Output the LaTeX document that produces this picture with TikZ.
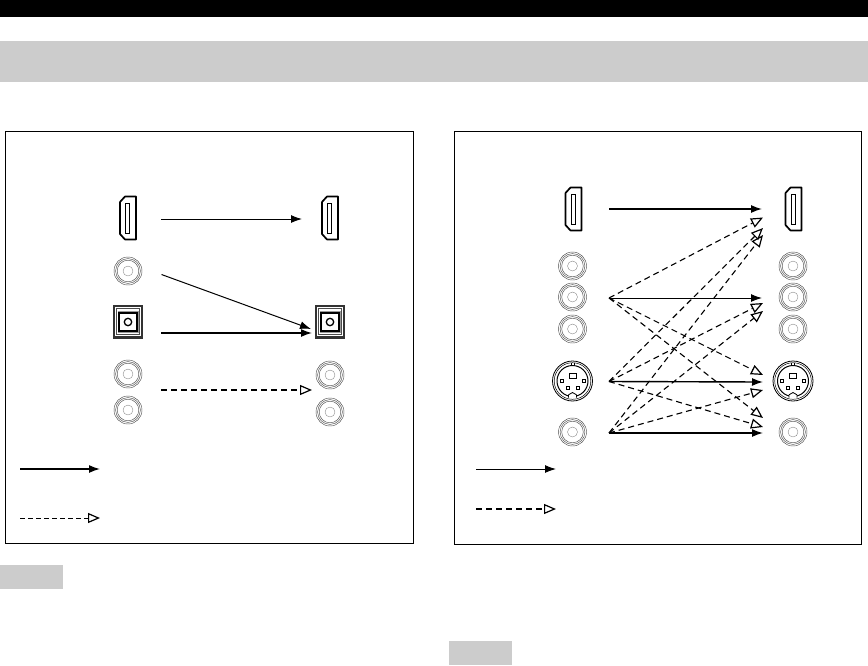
\documentclass[tikz,border=0pt]{standalone}
\usepackage{xcolor}
\usepackage{tikz}
\usetikzlibrary{arrows.meta, calc}
\definecolor{bandgray}{gray}{0.8}
\tikzset{
  solidarrow/.style={line width=1.4pt,-{Latex[length=11pt,width=8pt]}},
  thinarrow/.style={line width=1pt,-{Latex[length=11pt,width=8pt]}},
  dasharrow/.style={line width=1.1pt,dash pattern=on 6pt off 4pt,-{Triangle[open,length=12pt,width=10pt,line width=1.2pt]}},
  boxframe/.style={draw,line width=1pt},
  rcajack/.pic={
    \draw[line width=0.45pt,black!70] (0,0) circle (14) (0,0) circle (12.4) (0,0) circle (10.8);
    \draw[line width=0.35pt,black!50] (0,0) circle (5);
  },
  hdmiport/.pic={
    \draw[line width=1.7pt,line join=round] (8,-21.5) -- (-3,-21.5) -- (-8,-16) -- (-8,16) -- (-3,21.5) -- (8,21.5) -- cycle;
    \draw[line width=0.6pt] (-2.5,-15) rectangle (1.5,15);
  },
  opticalport/.pic={
    \fill[black!80] (-14.7,-17) rectangle (14.7,17);
    \fill[white] (-12.7,-15) rectangle (12.7,14);
    \draw[black!70,line width=0.7pt] (-11.3,-13.7) rectangle (11.3,12.3);
    \fill[black!40] (-10.5,-11) rectangle (10.5,11);
    \draw[line width=1.3pt,fill=white] (-9,-9) rectangle (9,9);
    \draw[line width=1.3pt] (0,0) circle (3.7);
  },
  svideoport/.pic={
    \draw[line width=0.8pt] (0,0) circle (20);
    \draw[line width=0.5pt] (0,0) circle (18.3);
    \draw[line width=1pt] (0,0) circle (15.5);
    \fill[white] (-4,13) rectangle (4,17);
    \draw[line width=0.8pt] (-4,13.8) -- (-4,16.6) (4,13.8) -- (4,16.6) (-4,13.8) -- (0,11.5) -- (4,13.8);
    \draw[line width=0.5pt] (-1.5,-18.3) -- (-1.5,-15.5) (1.5,-18.3) -- (1.5,-15.5);
    \draw[line width=0.7pt] (-3.5,-7.5) rectangle (3.5,-3);
    \draw[line width=0.6pt] (-12.5,-1.5) rectangle (-9.5,1.5) (9.5,-1.5) rectangle (12.5,1.5);
    \draw[line width=0.6pt] (-6.5,5.5) rectangle (-3.5,8.5) (3.5,5.5) rectangle (6.5,8.5);
  }
}

\begin{document}
\begin{tikzpicture}[x=1pt,y=-1pt]
  \useasboundingbox (0,0) rectangle (868,665);

  % Header bars
  \fill[black] (0,0) rectangle (868,17);
  \fill[bandgray] (0,41) rectangle (868,82);

  % Panels and note tabs
  \draw[boxframe] (5.5,131) rectangle (413.5,543);
  \draw[boxframe] (454,131) rectangle (861,544.5);
  \fill[bandgray] (0,565) rectangle (63,589);
  \fill[bandgray] (449,641) rectangle (512,665);

  % Left panel ports
  \pic at (128,218) {hdmiport};
  \pic at (330,218) {hdmiport};
  \pic at (128,271) {rcajack};
  \pic at (128,322) {opticalport};
  \pic at (330,322) {opticalport};
  \foreach \px/\py in {128/374, 128/410, 330/375, 330/412} {
    \pic at (\px,\py) {rcajack};
  }

  % Left panel arrow ends
  \coordinate (hdmiInL) at (161,219);
  \coordinate (hdmiOutL) at (302,219);
  \coordinate (coaxInL) at (161.5,274.5);
  \coordinate (optInL) at (161,333);
  \coordinate (optOutL) at (312,333);
  \coordinate (optOutLb) at (311,329);
  \coordinate (rcaInL) at (161,390);
  \coordinate (rcaOutL) at (312,390);

  \draw[thinarrow] (hdmiInL) -- (hdmiOutL);
  \draw[thinarrow] (coaxInL) -- (optOutLb);
  \draw[solidarrow] (optInL) -- (optOutL);
  \draw[dasharrow,line width=1.3pt] (rcaInL) -- (rcaOutL);

  % Left panel legend
  \coordinate (keyAL) at (20,469);
  \coordinate (keyAR) at (100,469);
  \coordinate (keyBL) at (20,518);
  \coordinate (keyBR) at (100,518);
  \draw[solidarrow] (keyAL) -- (keyAR);
  \draw[dasharrow,line width=0.7pt,dash pattern=on 4.5pt off 3.5pt] (keyBL) -- (keyBR);

  % Right panel ports
  \pic at (573.5,209) {hdmiport};
  \pic at (793.5,209) {hdmiport};
  \foreach \px in {572.5,793} {
    \pic at (\px,266) {rcajack};
    \pic at (\px,297) {rcajack};
    \pic at (\px,329) {rcajack};
    \pic at (\px,381) {svideoport};
    \pic at (\px,432) {rcajack};
  }

  % Right panel sources
  \coordinate (hdmiSrc) at (609,209);
  \coordinate (compSrc) at (609,298);
  \coordinate (svidSrc) at (609,381.5);
  \coordinate (cvbsSrc) at (609,433);

  % Right panel targets
  \coordinate (hdmiDst) at (762,209);
  \coordinate (hdmiDstA) at (763,217.5);
  \coordinate (hdmiDstB) at (763,228);
  \coordinate (hdmiDstC) at (763,235);
  \coordinate (compDst) at (762,298);
  \coordinate (compDstA) at (763,303);
  \coordinate (compDstB) at (763,311);
  \coordinate (svidDstA) at (763,375);
  \coordinate (svidDst) at (763,382);
  \coordinate (svidDstB) at (763,390);
  \coordinate (cvbsDstA) at (763,418);
  \coordinate (cvbsDstB) at (763,427);
  \coordinate (cvbsDst) at (763,433);

  \draw[solidarrow] (hdmiSrc) -- (hdmiDst);
  \draw[thinarrow] (compSrc) -- (compDst);
  \draw[solidarrow] (svidSrc) -- (svidDst);
  \draw[solidarrow] (cvbsSrc) -- (cvbsDst);

  \draw[dasharrow] (compSrc) -- (hdmiDstA);
  \draw[dasharrow] (compSrc) -- (svidDstA);
  \draw[dasharrow] (compSrc) -- (cvbsDstA);
  \draw[dasharrow] (svidSrc) -- (hdmiDstB);
  \draw[dasharrow] (svidSrc) -- (compDstA);
  \draw[dasharrow] (svidSrc) -- (cvbsDstB);
  \draw[dasharrow] (cvbsSrc) -- (hdmiDstC);
  \draw[dasharrow] (cvbsSrc) -- (compDstB);
  \draw[dasharrow] (cvbsSrc) -- (svidDstB);

  % Right panel legend
  \coordinate (keyCL) at (476,469);
  \coordinate (keyCR) at (556,469);
  \coordinate (keyDL) at (476,509);
  \coordinate (keyDR) at (556,509);
  \draw[thinarrow] (keyCL) -- (keyCR);
  \draw[dasharrow,line width=1.4pt] (keyDL) -- (keyDR);
\end{tikzpicture}
\end{document}
